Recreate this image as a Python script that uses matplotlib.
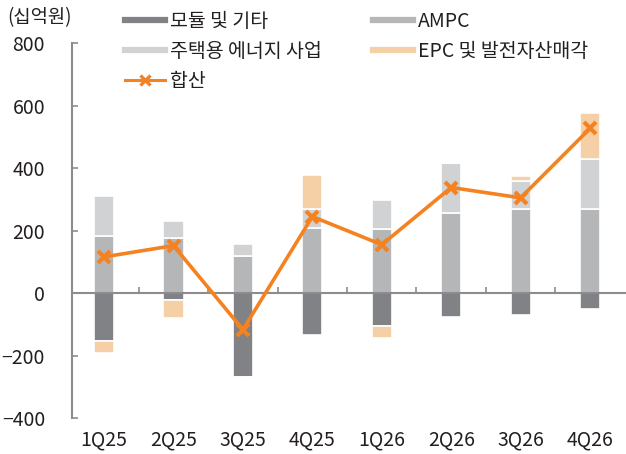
import matplotlib
matplotlib.use("Agg")
import matplotlib.pyplot as plt
from matplotlib.lines import Line2D
import numpy as np

plt.rcParams['font.family'] = ['Noto Sans CJK KR', 'DejaVu Sans']

categories = ['1Q25', '2Q25', '3Q25', '4Q25', '1Q26', '2Q26', '3Q26', '4Q26']
module_etc = [-152, -22, -267, -134, -104, -75, -71, -52]
ampc = [182, 177, 118, 207, 205, 258, 268, 268]
residential = [128, 54, 39, 61, 93, 159, 90, 160]
epc = [-40, -56, -5, 110, -38, 0, 16, 150]
total = [116, 152, -117, 245, 155, 338, 305, 527]

c_mod = '#808285'
c_ampc = '#b5b6b8'
c_res = '#d1d2d4'
c_epc = '#f5cfa6'
c_line = '#f58220'
c_axis = '#8c8c8c'
c_text = '#231f20'

fig = plt.figure(figsize=(6.26, 4.54), dpi=100)
ax = fig.add_axes([71.5 / 626, 0.079, 1 - 71.5 / 626 - 0.002, 0.826])

x = np.arange(len(categories))
w = 0.29
ec = 'white'
lw = 1.2

ax.bar(x, module_etc, w, color=c_mod, edgecolor=ec, linewidth=lw, zorder=2)
ax.bar(x, ampc, w, color=c_ampc, edgecolor=ec, linewidth=lw, zorder=2)
ax.bar(x, residential, w, bottom=ampc, color=c_res, edgecolor=ec, linewidth=lw, zorder=2)
pos_top = [a + r for a, r in zip(ampc, residential)]
epc_bottom = [pt if e >= 0 else m for e, pt, m in zip(epc, pos_top, module_etc)]
ax.bar(x, epc, w, bottom=epc_bottom, color=c_epc, edgecolor=ec, linewidth=lw, zorder=2)

ax.plot(x, total, color=c_line, linewidth=2.6, marker='x', markersize=9,
        markeredgewidth=3, zorder=4)

ax.set_xlim(-0.47, 7.5)
ax.set_ylim(-400, 800)
ax.set_yticks([-400, -200, 0, 200, 400, 600, 800])
ax.tick_params(axis='y', direction='in', length=4, width=1.2, color=c_axis,
               labelsize=14, labelcolor=c_text, pad=19)
ax.set_xticks(x)
ax.set_xticklabels(categories)
ax.set_xticks(np.arange(0.5, 7.5, 1), minor=True)
ax.tick_params(axis='x', which='major', length=0, labelsize=14, labelcolor=c_text, pad=98)
ax.tick_params(axis='x', which='minor', direction='in', length=4, width=1.2, color=c_axis)

ax.spines['top'].set_visible(False)
ax.spines['right'].set_visible(False)
ax.spines['bottom'].set_position(('data', 0))
ax.spines['bottom'].set_color(c_axis)
ax.spines['bottom'].set_linewidth(1.5)
ax.spines['left'].set_color(c_axis)
ax.spines['left'].set_linewidth(1.5)

fig.text(7 / 626, 1 - 18 / 454, '(십억원)', fontsize=13.5, color=c_text, va='center', ha='left')

handles = [
    Line2D([0], [0], color=c_mod, linewidth=4.5),
    Line2D([0], [0], color=c_res, linewidth=4.5),
    Line2D([0], [0], color=c_line, linewidth=2.2, marker='x', markersize=7, markeredgewidth=2.4),
    Line2D([0], [0], color=c_ampc, linewidth=4.5),
    Line2D([0], [0], color=c_epc, linewidth=4.5),
]
labels = ['모듈 및 기타', '주택용 에너지 사업', '합산', 'AMPC', 'EPC 및 발전자산매각']
fig.legend(handles, labels, loc='upper left', bbox_to_anchor=(125 / 626, 1 - 11 / 454),
           ncol=2, frameon=False, fontsize=14, handlelength=2.07, handletextpad=0.26,
           columnspacing=2.6, labelspacing=0.45, borderpad=0, borderaxespad=0,
           labelcolor=c_text)

fig.savefig('out.png', dpi=100)
